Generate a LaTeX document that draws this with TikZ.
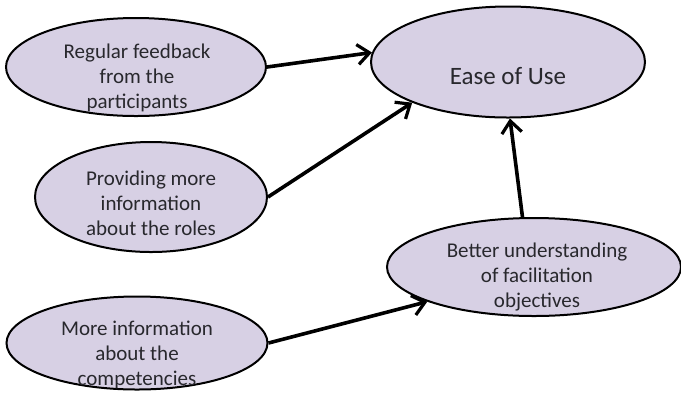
\documentclass[tikz,border=0pt]{standalone}
\usepackage{fontspec}
\setmainfont{Carlito}
\usetikzlibrary{shapes.geometric,arrows.meta}
\definecolor{lilac}{RGB}{215,208,228}
\definecolor{inkgray}{RGB}{40,40,45}
\begin{document}
\begin{tikzpicture}[x=0.5pt, y=-0.5pt,
  bubble/.style={ellipse, draw, line width=1pt, fill=lilac, inner sep=0pt},
  words/.style={align=center, text=inkgray, font=\fontsize{10.5}{12.5}\selectfont},
  link/.style={-{Straight Barb[length=6pt, width=10pt, line width=1.6pt]}, line width=1.8pt}]

  \useasboundingbox (0,0) rectangle (681,393);

  % Ellipses
  \node[bubble, minimum width=130pt, minimum height=49pt] (reg) at (136,67) {};
  \node[bubble, minimum width=116pt, minimum height=55pt] (prov) at (151,197) {};
  \node[bubble, minimum width=130.5pt, minimum height=46.5pt] (more) at (137,343) {};
  \node[bubble, minimum width=137pt, minimum height=55.5pt] (ease) at (508,62) {};
  \node[bubble, minimum width=147pt, minimum height=49pt] (better) at (534,267) {};

  % Labels
  \node[words] at (137,78) {Regular feedback\\from the\\participants};
  \node[words] at (151,203) {Providing more\\information\\about the roles};
  \node[words] at (137,355) {More information\\about the\\competencies};
  \node[words, font=\fontsize{12.5}{14}\selectfont] at (508,76) {Ease of Use};
  \node[words] at (537,277) {Better understanding\\of facilitation\\objectives};

  % Arrows
  \draw[link] (reg.east) -- (ease.176);
  \draw[link] (prov.east) -- (ease.203);
  \draw[link] (better.103) -- (ease.272);
  \draw[link] (more.east) -- (better.198);

\end{tikzpicture}
\end{document}
